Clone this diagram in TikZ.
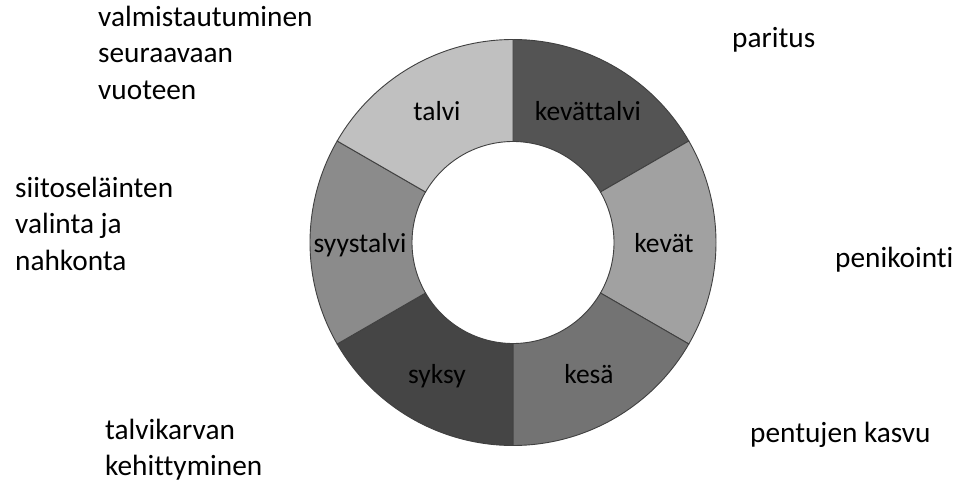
\documentclass[tikz,border=0pt]{standalone}
\usepackage{fontspec}
\setmainfont{Carlito}[Ligatures=NoCommon]
\usetikzlibrary{calc}
\begin{document}
\begin{tikzpicture}[x=1pt,y=1pt,
  seg/.style={draw=black!75,line width=0.9pt},
  ringlabel/.style={inner sep=0pt,anchor=base,font=\fontsize{27.5}{33}\selectfont},
  outlabel/.style={inner sep=0pt,align=left,font=\fontsize{29.3}{36.3}\selectfont}]
\useasboundingbox (0,0) rectangle (959,483);
\coordinate (c) at (513,240.5);
\def\Ro{203}
\def\Ri{101}
\foreach \a/\b/\col in {90/30/545454, 30/-30/a1a1a1, -30/-90/737373, -90/-150/454545, -150/-210/8b8b8b, 150/90/c0c0c0}{
  \definecolor{segc}{HTML}{\col}
  \draw[seg,fill=segc] ($(c)+(\a:\Ri)$) -- ($(c)+(\a:\Ro)$) arc[start angle=\a,end angle=\b,radius=\Ro] -- ($(c)+(\b:\Ri)$) arc[start angle=\b,end angle=\a,radius=\Ri] -- cycle;
}
\node[ringlabel] (talvi) at (437,362) {talvi};
\node[ringlabel] (kevattalvi) at (588,362) {kevättalvi};
\node[ringlabel] (kevat) at (664,231) {kevät};
\node[ringlabel] (kesa) at (589,100) {kesä};
\node[ringlabel] (syksy) at (437,100) {syksy};
\node[ringlabel] (syystalvi) at (360,231) {syystalvi};
\node[outlabel,anchor=north west] (valm) at (98,477.1) {valmistautuminen\\seuraavaan\\vuoteen};
\node[outlabel,anchor=north west] (siitos) at (15,306.1) {siitoseläinten\\valinta ja\\nahkonta};
\node[outlabel,anchor=north west] (talvik) at (105,64.1) {talvikarvan\\kehittyminen};
\node[outlabel,anchor=base west] (paritus) at (732,435) {paritus};
\node[outlabel,anchor=base west] (penik) at (835,216) {penikointi};
\node[outlabel,anchor=base west] (pentu) at (750,41) {pentujen kasvu};
\end{tikzpicture}
\end{document}
